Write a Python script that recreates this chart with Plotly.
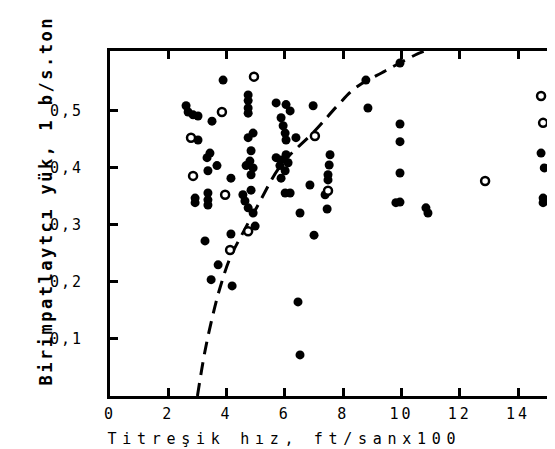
import plotly.graph_objects as go

# Filled points (velocity ft/s x100, unit explosive load lb/s.ton)
filled_x = [3.88, 4.74, 4.74, 4.74, 4.74, 2.61, 2.85, 2.68, 3.02, 3.50,
            3.02, 4.74, 4.91, 3.43, 3.33, 4.84, 4.80, 4.67, 4.91, 4.84,
            3.67, 3.36, 4.15, 2.92, 2.92, 3.36, 3.36, 3.36, 4.56, 4.63,
            4.74, 4.91, 4.84, 4.98, 3.26, 4.15, 3.71, 3.47, 4.19, 5.70,
            6.04, 6.18, 5.87, 5.94, 6.01, 6.04, 6.97, 6.38, 5.70, 6.04,
            5.87, 5.83, 6.01, 5.87, 6.11, 6.01, 6.18, 6.86, 7.55, 7.52,
            7.48, 7.48, 7.38, 6.52, 7.45, 7.00, 6.45, 6.52, 8.85, 9.95,
            9.95, 9.95, 9.95, 9.81, 10.91, 10.84, 14.79, 14.90, 14.86, 14.86,
            9.95, 8.78]
filled_y = [0.554, 0.528, 0.518, 0.505, 0.496, 0.509, 0.493, 0.498, 0.491, 0.482,
            0.449, 0.453, 0.461, 0.426, 0.418, 0.430, 0.412, 0.404, 0.400, 0.388,
            0.404, 0.395, 0.382, 0.347, 0.339, 0.356, 0.344, 0.335, 0.353, 0.342,
            0.330, 0.321, 0.361, 0.298, 0.272, 0.284, 0.230, 0.204, 0.193, 0.514,
            0.511, 0.500, 0.488, 0.474, 0.461, 0.449, 0.509, 0.453, 0.418, 0.423,
            0.414, 0.404, 0.395, 0.382, 0.409, 0.356, 0.356, 0.370, 0.423, 0.405,
            0.388, 0.379, 0.353, 0.321, 0.328, 0.282, 0.165, 0.072, 0.505, 0.477,
            0.446, 0.391, 0.340, 0.339, 0.321, 0.330, 0.426, 0.400, 0.347, 0.339,
            0.584, 0.554]

# Open points
open_x = [4.94, 3.84, 2.78, 2.85, 3.95, 4.74, 4.12, 7.03, 7.48, 12.87, 14.79, 14.86]
open_y = [0.560, 0.498, 0.453, 0.386, 0.353, 0.289, 0.256, 0.456, 0.360, 0.377, 0.526, 0.479]

# Dashed boundary curve
curve_x = [3.00, 3.26, 3.53, 3.77, 4.12, 4.60, 5.08, 5.87, 7.03, 7.82, 8.41, 9.44, 10.47, 10.80]
curve_y = [0.000, 0.079, 0.142, 0.189, 0.242, 0.290, 0.335, 0.405, 0.465, 0.510, 0.540, 0.570, 0.598, 0.605]

x_ticks = [0, 2, 4, 6, 8, 10, 12, 14]
y_ticks = [0.1, 0.2, 0.3, 0.4, 0.5]
y_ticktext = ["0,1", "0,2", "0,3", "0,4", "0,5"]

x_title = "Titreşik hız, ft/sanx100"
y_title = "Birimpatlaytcı yük, 1 b/s.ton"

MONO = "DejaVu Sans Mono"

fig = go.Figure()
fig.add_trace(go.Scatter(x=curve_x, y=curve_y, mode="lines",
                         line=dict(color="black", width=3, dash="13px,8px", shape="spline"),
                         showlegend=False, hoverinfo="skip"))
fig.add_trace(go.Scatter(x=filled_x, y=filled_y, mode="markers",
                         marker=dict(color="black", size=9, line=dict(width=0)),
                         showlegend=False))
fig.add_trace(go.Scatter(x=open_x, y=open_y, mode="markers",
                         marker=dict(color="white", size=8, line=dict(color="black", width=2.5)),
                         showlegend=False))

axis_common = dict(showgrid=False, zeroline=False, showline=True, linecolor="black",
                   linewidth=3, mirror="ticks", ticks="inside", ticklen=8, tickwidth=3,
                   tickcolor="black", automargin=False,
                   tickfont=dict(family=MONO, size=15, color="black"))

fig.update_xaxes(range=[0, 15.44], tickvals=x_ticks, ticktext=[str(v) for v in x_ticks],
                 ticklabelstandoff=2, **axis_common)
fig.update_yaxes(range=[0, 0.605], tickvals=y_ticks, ticktext=y_ticktext,
                 ticklabelstandoff=21, **axis_common)

fig.add_annotation(text=x_title, xref="paper", yref="paper", x=0.388, y=-0.125,
                   xanchor="center", yanchor="middle", showarrow=False,
                   font=dict(family=MONO, size=15, color="black"))
fig.add_annotation(text=y_title, xref="paper", yref="paper", x=-0.142, y=0.565,
                   xanchor="center", yanchor="middle", showarrow=False, textangle=-90,
                   font=dict(family=MONO, size=17, color="black", weight="bold"))

fig.update_layout(width=555, height=449,
                  margin=dict(l=102, r=3, t=43, b=61, autoexpand=False),
                  paper_bgcolor="white", plot_bgcolor="white")

post = """
var gd = document.getElementById('{plot_id}');
gd.querySelectorAll('.xtick text').forEach(function(t){t.style.letterSpacing='3px';});
gd.querySelectorAll('.ytick text').forEach(function(t){t.style.letterSpacing='2px';});
gd.querySelectorAll('.annotation[data-index="0"] text').forEach(function(t){t.style.letterSpacing='5.7px';});
gd.querySelectorAll('.annotation[data-index="1"] text').forEach(function(t){t.style.letterSpacing='2.5px';});
"""
fig.write_html("out.html", post_script=post)
